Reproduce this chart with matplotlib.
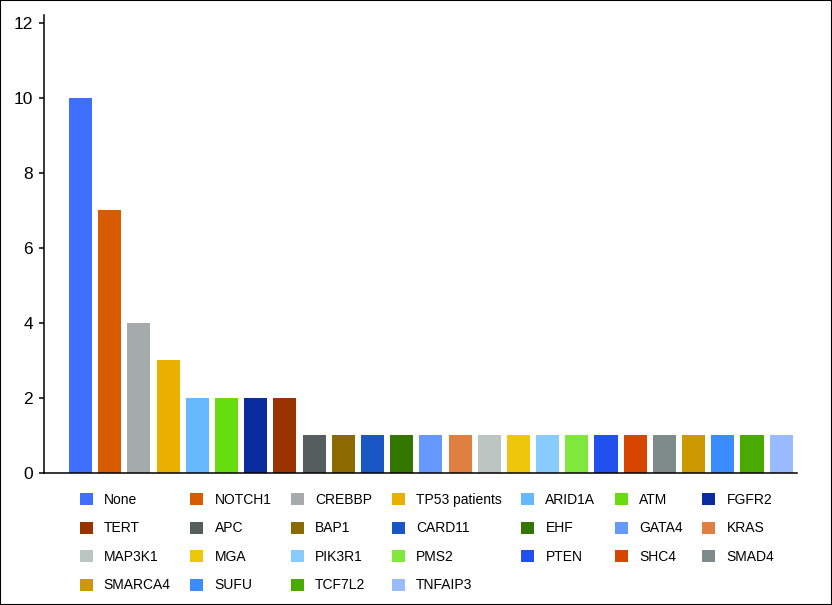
import matplotlib
matplotlib.use("Agg")
import matplotlib.pyplot as plt
from matplotlib.patches import Rectangle

plt.rcParams.update({
    'font.family': ['Liberation Sans', 'DejaVu Sans'],
    'axes.linewidth': 1.1,
})

genes = ["None", "NOTCH1", "CREBBP", "TP53 patients", "ARID1A", "ATM", "FGFR2",
         "TERT", "APC", "BAP1", "CARD11", "EHF", "GATA4", "KRAS",
         "MAP3K1", "MGA", "PIK3R1", "PMS2", "PTEN", "SHC4", "SMAD4",
         "SMARCA4", "SUFU", "TCF7L2", "TNFAIP3"]
counts = [10, 7, 4, 3, 2, 2, 2,
          2, 1, 1, 1, 1, 1, 1,
          1, 1, 1, 1, 1, 1, 1,
          1, 1, 1, 1]
colors = ["#3f6fff", "#d95b00", "#a5aaaa", "#e9b000", "#66b8ff", "#66dd11", "#0a2c9e",
          "#993300", "#545e5e", "#8b6a00", "#1a56c4", "#337700", "#6699ff", "#e08040",
          "#bbc6c2", "#eec60a", "#88ccff", "#80e83a", "#2250ee", "#d84500", "#7e8b8a",
          "#cc9900", "#3a8cff", "#49aa00", "#99bbff"]
yticks = [0, 2, 4, 6, 8, 10, 12]

fig = plt.figure(figsize=(8.32, 6.05), dpi=100)
ax = fig.add_axes([0.0529, 0.2182, 0.905, 0.7570])

bars = ax.bar(range(len(genes)), counts, width=0.79, color=colors, label=genes)

ax.set_xlim(-1.25, 24.54)
ax.set_ylim(0, 12.2)
ax.set_yticks(yticks)
ax.set_xticks([])
ax.tick_params(axis='y', direction='out', length=3.6, width=1.1, pad=4.3,
               labelsize=12.5, colors='black')
ax.spines['top'].set_visible(False)
ax.spines['right'].set_visible(False)

# legend is filled column by column, so reorder to get row-wise layout
ncol, nrow = 7, 4
order = [i * ncol + j for j in range(ncol) for i in range(nrow) if i * ncol + j < len(genes)]
handles = [bars[k] for k in order]
labels = [genes[k] for k in order]
fig.legend(handles, labels, ncols=ncol, loc='upper left',
           bbox_to_anchor=(79.5 / 832, 1 - 493 / 605), frameon=False,
           fontsize=10, borderpad=0, borderaxespad=0,
           handlelength=0.95, handleheight=0.95, handletextpad=0.8,
           columnspacing=1.4, labelspacing=1.04)

fig.patches.append(Rectangle((0, 0), 1, 1, transform=fig.transFigure,
                             fill=False, edgecolor='black', linewidth=1.5))

fig.savefig("out.png", dpi=100)
